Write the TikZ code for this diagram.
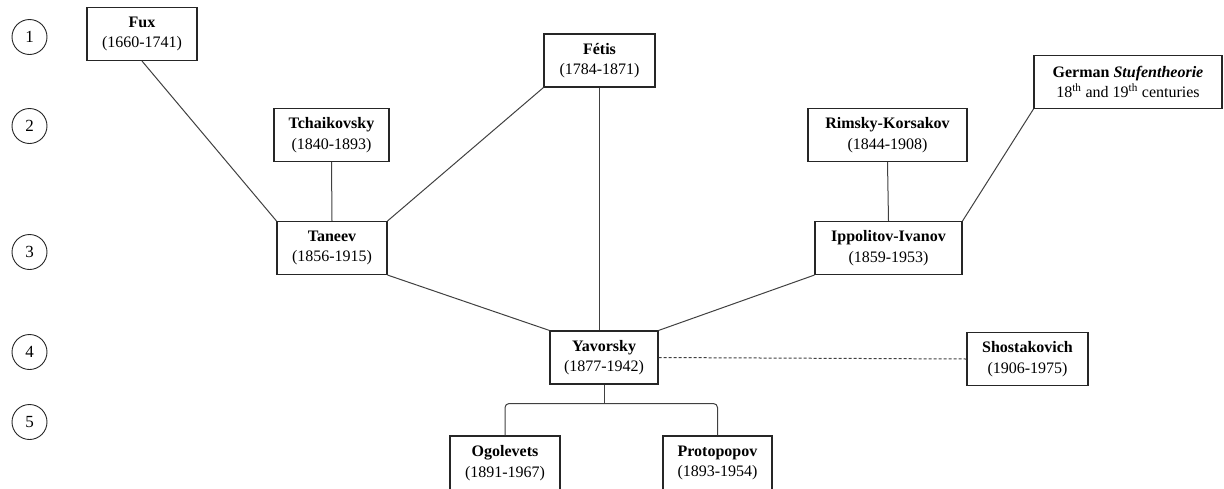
\documentclass[tikz,border=0pt]{standalone}
\usepackage{fontspec}
\setmainfont{Liberation Serif}
\begin{document}
\begin{tikzpicture}[x=1pt,y=-1pt,
  person/.style={draw=black!85, line width=1.1pt, inner sep=0pt, align=center,
    minimum height=53pt, font=\fontsize{16}{20.5}\selectfont, fill=white},
  rowno/.style={draw=black!85, circle, line width=0.9pt, minimum size=35pt, inner sep=0pt,
    font=\fontsize{17}{20}\selectfont},
  link/.style={draw=black!75, line width=1pt},
  dlink/.style={draw=black!75, line width=1pt, dash pattern=on 3pt off 2pt}]
\useasboundingbox (0,0) rectangle (1224,488);

\node[rowno] (r1) at (29.5,37) {1};
\node[rowno] (r2) at (29.5,126) {2};
\node[rowno] (r3) at (29.5,252) {3};
\node[rowno] (r4) at (29.5,352) {4};
\node[rowno] (r5) at (29.5,422) {5};

\node[person, minimum width=110pt] (fux) at (142,34) {\textbf{Fux}\\(1660-1741)};
\node[person, minimum width=111pt] (fetis) at (599.5,60.5) {\textbf{Fétis}\\(1784-1871)};
\node[person, minimum width=188pt] (german) at (1128,82) {\textbf{German \textit{Stufentheorie}}\\18\textsuperscript{th} and 19\textsuperscript{th} centuries};
\node[person, minimum width=115pt] (tchai) at (331.5,135) {\textbf{Tchaikovsky}\\(1840-1893)};
\node[person, minimum width=159pt] (rimsky) at (887.5,135) {\textbf{Rimsky-Korsakov}\\(1844-1908)};
\node[person, minimum width=110pt] (taneev) at (332,248) {\textbf{Taneev}\\(1856-1915)};
\node[person, minimum width=147pt] (ippo) at (888.5,248) {\textbf{Ippolitov-Ivanov}\\(1859-1953)};
\node[person, minimum width=108pt] (yav) at (604,357.5) {\textbf{Yavorsky}\\(1877-1942)};
\node[person, minimum width=121pt] (shost) at (1027.5,359) {\textbf{Shostakovich}\\(1906-1975)};
\node[person, minimum width=110pt, minimum height=54pt] (ogol) at (505,463) {\textbf{Ogolevets}\\(1891-1967)};
\node[person, minimum width=109pt, minimum height=54pt] (proto) at (717.5,463) {\textbf{Protopopov}\\(1893-1954)};

\draw[link] (fux.south) -- (taneev.north west);
\draw[link] (tchai.south) -- (taneev.north);
\draw[link] (fetis.south west) -- (taneev.north east);
\draw[link] (fetis.south) -- (fetis.south |- yav.north);
\draw[link] (taneev.south east) -- (yav.north west);
\draw[link] (rimsky.south) -- (ippo.north);
\draw[link] (german.south west) -- (ippo.north east);
\draw[link] (ippo.south west) -- (yav.north east);
\draw[dlink] (yav.east) -- (shost.west);
\coordinate (br) at ([yshift=-19pt]yav.south);
\draw[link] (yav.south) -- (br);
\draw[link, rounded corners=4pt] (ogol.north) -- (ogol.north |- br) -- (proto.north |- br) -- (proto.north);
\end{tikzpicture}
\end{document}
